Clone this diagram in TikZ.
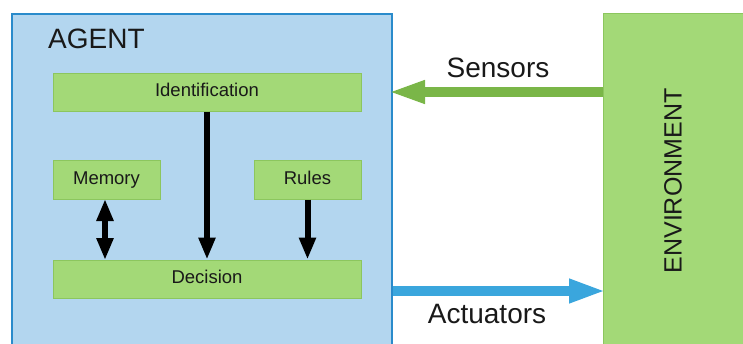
\documentclass[tikz,border=0pt]{standalone}
\usepackage{fontspec}
\setmainfont{Liberation Sans}
\usetikzlibrary{arrows.meta}
\definecolor{agentblue}{HTML}{B3D6EF}
\definecolor{agentline}{HTML}{2A8BCB}
\definecolor{boxgreen}{HTML}{A3D977}
\definecolor{boxline}{HTML}{8CC65E}
\definecolor{sensegreen}{HTML}{7AB648}
\definecolor{actblue}{HTML}{3AA6DD}
\tikzset{part/.style = {draw=boxline, fill=boxgreen, line width=1pt, inner sep=0,
                        text height=13pt, text depth=4pt,
                        font=\fontsize{18.5}{21}\selectfont, text=black!90}}
\tikzset{flow/.style = {line width=6pt, -{Triangle[length=22pt,width=16pt]}}}
\tikzset{bigtext/.style = {font=\fontsize{28}{32}\selectfont, text=black!90, inner sep=0}}

\begin{document}
\begin{tikzpicture}[x=1pt, y=-1pt]
      \useasboundingbox (0,0) rectangle (743,343);
      \clip (0,0) rectangle (743,343);
      \node[draw=agentline, fill=agentblue, line width=2pt, inner sep=0,
            minimum width=380pt, minimum height=360pt, anchor=north west] (agent) at (11,13) {};
      \node[draw=boxline, fill=boxgreen, line width=1pt, inner sep=0,
            minimum width=170pt, minimum height=360pt, anchor=north west] (env) at (603,13) {};
      \node[bigtext, anchor=west] (agenttitle) at (48,39) {AGENT};
      \node[bigtext, rotate=90, font=\fontsize{25}{29}\selectfont] (envtitle) at (673,181) {ENVIRONMENT};

      \node[part, minimum width=308pt, minimum height=38pt] (ident) at (207,92) {Identification};
      \node[part, minimum width=107pt, minimum height=39pt] (memory) at (106.5,179.5) {Memory};
      \node[part, minimum width=107pt, minimum height=39pt] (rules) at (307.5,179.5) {Rules};
      \node[part, minimum width=308pt, minimum height=38pt] (decision) at (207,279) {Decision};

      \draw[flow] (ident) -- (decision);
      \draw[flow] (rules) -- (rules |- decision.north);
      \draw[flow, {Triangle[length=22pt,width=16pt]}-{Triangle[length=22pt,width=16pt]}]
            (105,199) -- (105,260);

      \coordinate (act) at (0,291);
      \draw[sensegreen, line width=10pt, shorten >=-5pt, -{Triangle[length=37pt,width=21pt]}]
            (env.west |- ident) -- (agent.east |- ident);
      \draw[actblue, line width=10pt, shorten >=-3pt, -{Triangle[length=37pt,width=22pt]}]
            (agent.east |- act) -- (env.west |- act);
      \node[bigtext] (sensors) at (498,68) {Sensors};
      \node[bigtext] (actuators) at (487,314) {Actuators};
    \end{tikzpicture}
\end{document}
